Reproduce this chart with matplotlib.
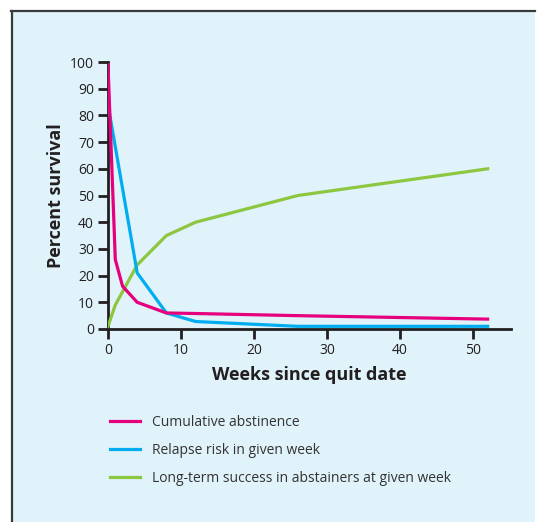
import matplotlib
matplotlib.use('Agg')
import matplotlib.pyplot as plt
from matplotlib.patches import Rectangle
from matplotlib.lines import Line2D

plt.rcParams['font.family'] = ['Open Sans', 'DejaVu Sans']

# data
weeks_abst = [0, 1, 2, 4, 8, 12, 26, 52]
cum_abstinence = [99, 26, 16, 10, 6, 5.8, 5, 3.7]

weeks_relapse = [0, 4, 8, 12, 26, 52]
relapse_risk = [84, 21, 6, 2.8, 1, 1]

weeks_success = [0, 1, 4, 8, 12, 26, 52]
long_term = [1, 9, 24, 35, 40, 50, 60]

labels = ['Cumulative abstinence',
          'Relapse risk in given week',
          'Long-term success in abstainers at given week']
colors = ['#E6007E', '#00AEEF', '#8DC63F']

INK = '#231F20'
BG = '#E0F2FA'

fig = plt.figure(figsize=(5.37, 5.22), dpi=100, facecolor='white')

# light blue panel with dark left/top border
W, H = 537.0, 522.0
fig.add_artist(Rectangle((11 / W, 0), (535 - 11) / W, (H - 11) / H,
                         transform=fig.transFigure, facecolor=BG,
                         edgecolor='none', zorder=0))
fig.add_artist(Line2D([11.5 / W, 11.5 / W], [0, (H - 11) / H],
                      transform=fig.transFigure, color='#3a3a3a', lw=1.6))
fig.add_artist(Line2D([11 / W, 535 / W], [(H - 11) / H, (H - 11) / H],
                      transform=fig.transFigure, color='#3a3a3a', lw=1.6))

ax = fig.add_axes([108 / W, (H - 329) / H, (511 - 108) / W, (329 - 62) / H])
ax.patch.set_alpha(0)

ax.plot(weeks_abst, cum_abstinence, color=colors[0], lw=2.3, label=labels[0], zorder=4)
ax.plot(weeks_relapse, relapse_risk, color=colors[1], lw=2.3, label=labels[1], zorder=3)
ax.plot(weeks_success, long_term, color=colors[2], lw=2.3, label=labels[2], zorder=2)

ax.set_xlim(0, 55.2)
ax.set_ylim(0, 100)
ax.set_xticks(range(0, 51, 10))
ax.set_yticks(range(0, 101, 10))
for s in ['top', 'right']:
    ax.spines[s].set_visible(False)
for s in ['left', 'bottom']:
    ax.spines[s].set_color(INK)
    ax.spines[s].set_linewidth(2)
    ax.spines[s].set_zorder(1)
ax.tick_params(direction='out', length=7, width=2, color=INK,
               labelsize=10, labelcolor=INK, pad=3)
ax.set_ylabel('Percent survival', fontsize=13, fontweight='bold', color=INK, labelpad=4)
ax.set_xlabel('Weeks since quit date', fontsize=13, fontweight='bold', color=INK, labelpad=6)

leg = ax.legend(loc='upper left', bbox_to_anchor=(97 / W, (H - 402) / H),
                bbox_transform=fig.transFigure, frameon=False, fontsize=10,
                handlelength=2.2, handletextpad=0.85, labelspacing=0.95)
for t in leg.get_texts():
    t.set_color('#333333')

fig.savefig('out.png', dpi=100, facecolor='white')
